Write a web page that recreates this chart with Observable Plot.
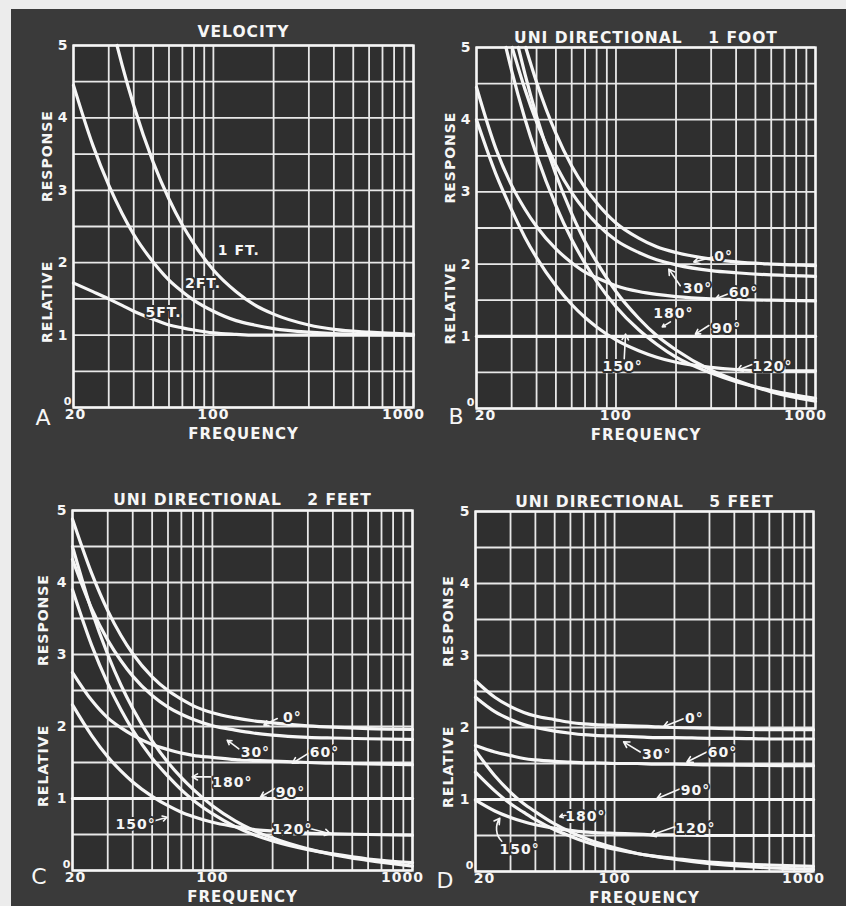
<!DOCTYPE html>
<html>
<head>
<meta charset="utf-8">
<script src="https://cdn.jsdelivr.net/npm/d3@7"></script>
<script src="https://cdn.jsdelivr.net/npm/@observablehq/plot@0.6"></script>
<style>
  body { margin: 0; background: #ececec; }
  #page { position: relative; width: 846px; height: 906px; overflow: hidden; background: #ececec; }
  #dark { position: absolute; left: 11px; top: 9px; right: 0; bottom: 0; background: #3a3a3a; }
  .panel { position: absolute; }
</style>
</head>
<body>
<div id="page"><div id="dark"></div></div>
<script>
// ---------- axes ----------
const xGrid = [20, 30, 40, 50, 60, 70, 80, 90, 100, 200, 300, 400, 500, 600, 700, 800, 900, 1000];
const yGrid = [0, 0.5, 1, 1.5, 2, 2.5, 3, 3.5, 4, 4.5, 5];
const xTickFirst = [20];
const xTickMid = [100];
const xTickLast = [1000];
const yTicks = [1, 2, 3, 4, 5];
const yZeroTick = [0];

// ---------- Panel A : velocity ----------
const vel1ft = [[33,5.0],[35,4.73],[40,4.17],[50,3.39],[60,2.88],[70,2.52],[80,2.26],[100,1.90],[130,1.60],[160,1.42],[200,1.29],[300,1.14],[400,1.08],[600,1.04],[1000,1.01]];
const vel2ft = [[20,4.45],[25,3.62],[30,3.07],[35,2.68],[40,2.39],[50,2.01],[60,1.76],[70,1.60],[80,1.48],[100,1.33],[130,1.20],[160,1.14],[200,1.09],[300,1.04],[400,1.02],[600,1.01],[1000,1.0]];
const vel5ft = [[20,1.72],[25,1.60],[30,1.50],[35,1.41],[40,1.33],[50,1.22],[60,1.14],[70,1.10],[80,1.07],[100,1.03],[130,1.01],[160,1.0],[200,1.0],[400,1.0],[1000,1.0]];
const aLabels = ["1 FT.", "2FT.", "5FT."];
const aLabelPos = [[134,2.17],[88.7,1.71],[56.3,1.31]];

// ---------- Panel B : uni-directional 1 foot ----------
const b0   = [[35.3,5],[40,4.52],[50,3.81],[60,3.36],[70,3.06],[80,2.85],[100,2.57],[130,2.36],[160,2.24],[200,2.16],[300,2.07],[400,2.03],[600,2.0],[1000,1.98]];
const b30  = [[30.2,5],[35,4.42],[40,3.97],[50,3.37],[60,2.99],[70,2.74],[80,2.56],[100,2.33],[130,2.16],[160,2.06],[200,1.99],[300,1.91],[400,1.88],[600,1.85],[1000,1.83]];
const b60  = [[20,4.45],[25,3.60],[30,3.09],[35,2.76],[40,2.52],[50,2.21],[60,2.02],[70,1.89],[80,1.81],[100,1.70],[130,1.62],[160,1.58],[200,1.55],[300,1.52],[400,1.51],[600,1.50],[1000,1.49]];
const b90  = [[20,1],[1000,1]];
const b120 = [[20,4.0],[25,3.25],[30,2.75],[35,2.37],[40,2.09],[50,1.70],[60,1.44],[70,1.26],[80,1.13],[100,0.95],[130,0.80],[160,0.71],[200,0.64],[300,0.57],[400,0.54],[600,0.52],[1000,0.52]];
const b150 = [[28.1,5],[30,4.68],[35,4.01],[40,3.51],[50,2.81],[60,2.34],[70,2.01],[80,1.76],[100,1.41],[130,1.09],[160,0.89],[200,0.71],[300,0.49],[400,0.37],[600,0.25],[1000,0.14]];
const b180 = [[32.4,5],[35,4.63],[40,4.05],[50,3.24],[60,2.70],[70,2.31],[80,2.03],[100,1.62],[130,1.25],[160,1.01],[200,0.81],[300,0.53],[400,0.39],[600,0.23],[1000,0.10]];
const bLabels = ["0°","30°","60°","180°","90°","150°","120°"];
const bLabelPos = [[346,2.1],[256,1.66],[436,1.6],[194,1.31],[358,1.11],[108,0.58],[608,0.58]];
const bArrows = [[308,2.1,245.6,2.03],[210,1.70,184,1.93],[367,1.59,316,1.52],[187.5,1.2,170.6,1.13],[292,1.15,250,1.03],[110,0.69,111.7,1.03],[491,0.62,406,0.53]];

// ---------- Panel C : uni-directional 2 feet ----------
const c0   = [[20,4.88],[25,4.12],[30,3.61],[35,3.26],[40,3.01],[50,2.69],[60,2.50],[70,2.38],[80,2.29],[100,2.19],[130,2.12],[160,2.08],[200,2.05],[300,2.01],[400,1.99],[600,1.97],[1000,1.96]];
const c30  = [[20,4.32],[25,3.63],[30,3.20],[35,2.91],[40,2.70],[50,2.43],[60,2.27],[70,2.17],[80,2.10],[100,2.01],[130,1.95],[160,1.91],[200,1.88],[300,1.85],[400,1.84],[600,1.83],[1000,1.82]];
const c60  = [[20,2.75],[25,2.36],[30,2.12],[35,1.98],[40,1.88],[50,1.75],[60,1.68],[70,1.63],[80,1.60],[100,1.57],[130,1.54],[160,1.53],[200,1.52],[300,1.50],[400,1.49],[600,1.48],[1000,1.47]];
const c90  = [[20,1],[1000,1]];
const c120 = [[20,2.30],[25,1.87],[30,1.58],[35,1.38],[40,1.23],[50,1.03],[60,0.90],[70,0.81],[80,0.75],[100,0.67],[130,0.61],[160,0.57],[200,0.55],[300,0.52],[400,0.51],[600,0.50],[1000,0.49]];
const c150 = [[20,3.90],[25,3.12],[30,2.60],[35,2.23],[40,1.95],[50,1.56],[60,1.31],[70,1.12],[80,0.98],[100,0.79],[130,0.61],[160,0.50],[200,0.41],[300,0.29],[400,0.23],[600,0.16],[1000,0.11]];
const c180 = [[20,4.50],[25,3.60],[30,3.00],[35,2.57],[40,2.25],[50,1.80],[60,1.50],[70,1.29],[80,1.13],[100,0.90],[130,0.69],[160,0.56],[200,0.45],[300,0.30],[400,0.22],[600,0.14],[1000,0.06]];
const cLabels = ["0°","30°","60°","180°","90°","150°","120°"];
const cLabelPos = [[251,2.13],[164,1.64],[363,1.64],[126,1.22],[245.6,1.08],[41.3,0.64],[251,0.57]];
const cArrows = [[211,2.11,181,2.02],[135.6,1.69,118.6,1.81],[303,1.63,251,1.49],[98,1.30,79.3,1.30],[206,1.14,174,1.02],[50,0.68,59.4,0.74],[310,0.58,389,0.51]];

// ---------- Panel D : uni-directional 5 feet ----------
const d0   = [[20,2.65],[25,2.42],[30,2.29],[35,2.21],[40,2.16],[50,2.11],[60,2.07],[70,2.05],[80,2.04],[100,2.03],[130,2.02],[160,2.01],[200,2.0],[300,1.99],[400,1.98],[600,1.97],[1000,1.97]];
const d30  = [[20,2.42],[25,2.22],[30,2.11],[35,2.04],[40,2.0],[50,1.95],[60,1.92],[70,1.90],[80,1.89],[100,1.88],[130,1.87],[160,1.86],[200,1.86],[300,1.85],[400,1.85],[600,1.84],[1000,1.84]];
const d60  = [[20,1.75],[25,1.66],[30,1.61],[35,1.57],[40,1.55],[50,1.53],[60,1.52],[70,1.51],[80,1.51],[100,1.50],[130,1.50],[160,1.49],[200,1.49],[300,1.48],[1000,1.47]];
const d90  = [[20,1],[1000,1]];
const d120 = [[20,0.99],[25,0.84],[30,0.75],[35,0.69],[40,0.65],[50,0.60],[60,0.57],[70,0.55],[80,0.54],[100,0.53],[130,0.52],[160,0.51],[200,0.51],[300,0.50],[1000,0.50]];
const d150 = [[20,1.38],[25,1.12],[30,0.94],[35,0.82],[40,0.72],[50,0.58],[60,0.49],[70,0.42],[80,0.37],[100,0.31],[130,0.25],[160,0.21],[200,0.18],[300,0.13],[400,0.11],[600,0.09],[1000,0.07]];
const d180 = [[20,1.68],[25,1.33],[30,1.10],[35,0.94],[40,0.83],[50,0.66],[60,0.55],[70,0.47],[80,0.41],[100,0.33],[130,0.25],[160,0.21],[200,0.17],[300,0.11],[400,0.08],[600,0.05],[1000,0.03]];
const dLabels = ["0°","30°","60°","90°","180°","120°","150°"];
const dLabelPos = [[252,2.12],[163,1.62],[349,1.65],[255,1.12],[71.4,0.76],[255,0.6],[33.3,0.31]];
const dArrows = [[222,2.12,176,2.01],[134.6,1.66,111,1.8],[291,1.66,231,1.52],[214,1.15,163,1.01],[59.9,0.80,53,0.76],[209,0.64,151,0.50]];
const dBentArrows = [[27.1,0.42,26.5,0.74]];

const NB = "\u00a0";
const panels = [
  {left: 0, top: 0, m: [45, 10, 46, 73], title: "VELOCITY", titleDy: -13, letter: "A", ldx: -30, ldy: 10, yDx: -26, x20dx: 2,
   series: [vel1ft, vel2ft, vel5ft], labels: aLabels, labelPos: aLabelPos, arrows: [], bent: []},
  {left: 423, top: 0, m: [47, 31, 45, 53], title: "UNI DIRECTIONAL" + NB.repeat(4) + "1 FOOT", titleDy: -9, letter: "B", ldx: -20, ldy: 8, yDx: -26, x20dx: 9,
   series: [b0, b30, b60, b90, b120, b150, b180], labels: bLabels, labelPos: bLabelPos, arrows: bArrows, bent: []},
  {left: 0, top: 453, m: [57, 11, 36, 72], title: "UNI DIRECTIONAL" + NB.repeat(4) + "2 FEET", titleDy: -10, letter: "C", ldx: -33, ldy: 6, yDx: -29, x20dx: 3,
   series: [c0, c30, c60, c90, c120, c150, c180], labels: cLabels, labelPos: cLabelPos, arrows: cArrows, bent: []},
  {left: 423, top: 453, m: [58, 33, 35, 52], title: "UNI DIRECTIONAL" + NB.repeat(4) + "5 FEET", titleDy: -9, letter: "D", ldx: -30, ldy: 9, yDx: -27, x20dx: 9,
   series: [d0, d30, d60, d90, d120, d150, d180], labels: dLabels, labelPos: dLabelPos, arrows: dArrows, bent: dBentArrows}
];

const WHITE = "#f6f6f6";
const CELL = "#2f2f2f";
const page = document.getElementById("page");

for (const p of panels) {
  const labelRows = p.labels.map((t, i) => ({t, f: p.labelPos[i][0], v: p.labelPos[i][1]}));
  const axisText = {tickSize: 0, tickPadding: 2, fontSize: 14, fontWeight: "bold", label: null, tickFormat: d => String(d)};
  const marks = [
    Plot.frame({fill: CELL}),
    Plot.ruleX(xGrid, {stroke: "#e8e8e8", strokeWidth: 1.8}),
    Plot.ruleY(yGrid, {stroke: "#e8e8e8", strokeWidth: 1.8}),
    Plot.frame({stroke: WHITE, strokeWidth: 2.4}),
    ...p.series.map(s => Plot.line(s, {x: d => d[0], y: d => d[1], stroke: WHITE, strokeWidth: 3.2, curve: "monotone-x"})),
    Plot.arrow(p.arrows, {x1: d => d[0], y1: d => d[1], x2: d => d[2], y2: d => d[3], stroke: WHITE, strokeWidth: 1.6, headLength: 6}),
    Plot.arrow(p.bent, {x1: d => d[0], y1: d => d[1], x2: d => d[2], y2: d => d[3], stroke: WHITE, strokeWidth: 1.6, headLength: 6, bend: 40}),
    Plot.text(labelRows, {x: "f", y: "v", text: "t", fill: WHITE, stroke: CELL, strokeWidth: 4, fontSize: 14, fontWeight: "bold"}),
    Plot.axisX({...axisText, ticks: xTickFirst, dx: p.x20dx}),
    Plot.axisX({...axisText, ticks: xTickMid}),
    Plot.axisX({...axisText, ticks: xTickLast, dx: -10}),
    Plot.axisY({...axisText, ticks: yTicks, tickPadding: 5}),
    Plot.axisY({...axisText, ticks: yZeroTick, tickPadding: 1, dy: -6, fontSize: 11}),
    Plot.text([p.title], {frameAnchor: "top", dy: p.titleDy, text: d => d, fill: WHITE, fontSize: 15.5, fontWeight: "bold", lineAnchor: "middle"}),
    Plot.text(["FREQUENCY"], {frameAnchor: "bottom", dy: 27, text: d => d, fill: WHITE, fontSize: 15, fontWeight: "bold", lineAnchor: "middle"}),
    Plot.text(["RELATIVE" + NB.repeat(10) + "RESPONSE"], {frameAnchor: "left", dx: p.yDx, rotate: -90, textAnchor: "middle", text: d => d, fill: WHITE, fontSize: 14, fontWeight: "bold", lineAnchor: "middle"}),
    Plot.text([p.letter], {frameAnchor: "bottom-left", dx: p.ldx, dy: p.ldy, textAnchor: "middle", text: d => d, fill: WHITE, fontSize: 22, lineAnchor: "middle"})
  ];
  const svg = Plot.plot({
    width: 423,
    height: 453,
    marginTop: p.m[0], marginRight: p.m[1], marginBottom: p.m[2], marginLeft: p.m[3],
    x: {type: "log", domain: [20, 1000]},
    y: {domain: [0, 5]},
    style: {background: "transparent", color: WHITE, fontFamily: "'DejaVu Sans', sans-serif", letterSpacing: "1px", overflow: "visible"},
    marks
  });
  svg.classList.add("panel");
  svg.style.left = p.left + "px";
  svg.style.top = p.top + "px";
  page.appendChild(svg);
}
</script>
</body>
</html>
